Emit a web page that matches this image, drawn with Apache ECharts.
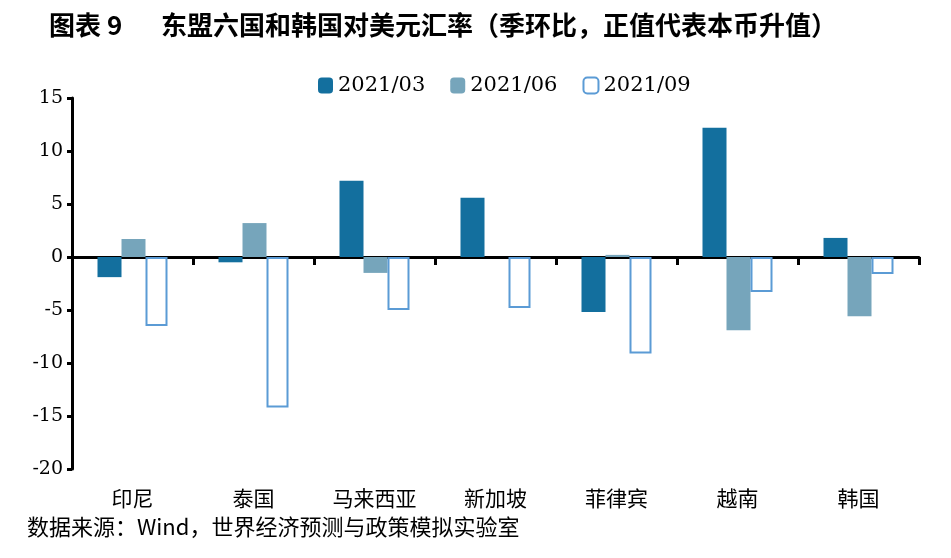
<!DOCTYPE html>
<html>
<head>
<meta charset="utf-8">
<script src="https://cdn.jsdelivr.net/npm/echarts@6/dist/echarts.min.js"></script>
<style>html,body{margin:0;padding:0;background:#fff}#c{width:951px;height:558px}</style>
</head>
<body>
<div id="c"></div>
<script>
var categories = ['印尼', '泰国', '马来西亚', '新加坡', '菲律宾', '越南', '韩国'];
var seriesNames = ['2021/03', '2021/06', '2021/09'];
var q1 = [-1.9, -0.5, 7.2, 5.6, -5.2, 12.2, 1.8];
var q2 = [1.7, 3.2, -1.5, 0.0, 0.2, -6.9, -5.6];
var q3 = [-6.5, -14.2, -5.0, -4.8, -9.1, -3.3, -1.6];
var yTicks = { min: -20, max: 15, interval: 5 };

var chart = echarts.init(document.getElementById('c'), null, { renderer: 'canvas' });
var serif = 'DejaVu Serif';
var cjk = 'Noto Sans CJK SC';
chart.setOption({
  backgroundColor: '#fff',
  animation: false,
  legend: {
    top: 70, left: 313,
    itemWidth: 15, itemHeight: 16, itemGap: 25,
    textStyle: { fontFamily: serif, fontSize: 21, color: '#000' },
    data: seriesNames
  },
  graphic: [{
    type: 'text', left: 49, top: 12,
    style: { text: '图表 9', fontFamily: cjk, fontSize: 26, fontWeight: 'bold', fill: '#000' }
  }, {
    type: 'text', left: 161, top: 12,
    style: { text: '东盟六国和韩国对美元汇率（季环比，正值代表本币升值）', fontFamily: cjk, fontSize: 26, fontWeight: 'bold', fill: '#000' }
  }, {
    type: 'text', left: 27, top: 516,
    style: { text: '数据来源：Wind，世界经济预测与政策模拟实验室', fontFamily: cjk, fontSize: 22, fill: '#000' }
  }],
  grid: { left: 72, right: 32, top: 98, bottom: 89, containLabel: false },
  xAxis: [{
    type: 'category', data: categories,
    axisLine: { onZero: true, lineStyle: { color: '#000', width: 3 } },
    axisTick: { show: true, interval: 0, length: 8, lineStyle: { color: '#000', width: 3 } },
    axisLabel: { show: false }
  }, {
    type: 'category', data: categories, position: 'bottom',
    axisLine: { show: false, onZero: false }, axisTick: { show: false },
    axisLabel: { margin: 19, fontFamily: cjk, fontSize: 21, color: '#000', interval: 0 }
  }],
  yAxis: {
    type: 'value', min: yTicks.min, max: yTicks.max, interval: yTicks.interval,
    axisLine: { show: true, lineStyle: { color: '#000', width: 3 } },
    axisTick: { show: true, length: 5, lineStyle: { color: '#000', width: 3 } },
    splitLine: { show: false },
    axisLabel: { margin: 9, fontFamily: serif, fontSize: 19, color: '#000' }
  },
  series: [{
    name: seriesNames[0], type: 'bar', data: q1, barWidth: 24, barGap: '0%',
    itemStyle: { color: '#136f9e' }
  }, {
    name: seriesNames[1], type: 'bar', data: q2, barWidth: 24, barGap: '0%',
    itemStyle: { color: '#76a5bb' }
  }, {
    name: seriesNames[2], type: 'bar', data: q3, barWidth: 22, barGap: '0%',
    itemStyle: { color: '#fff', borderColor: '#5b9bd5', borderWidth: 2 }
  }]
});
</script>
</body>
</html>
